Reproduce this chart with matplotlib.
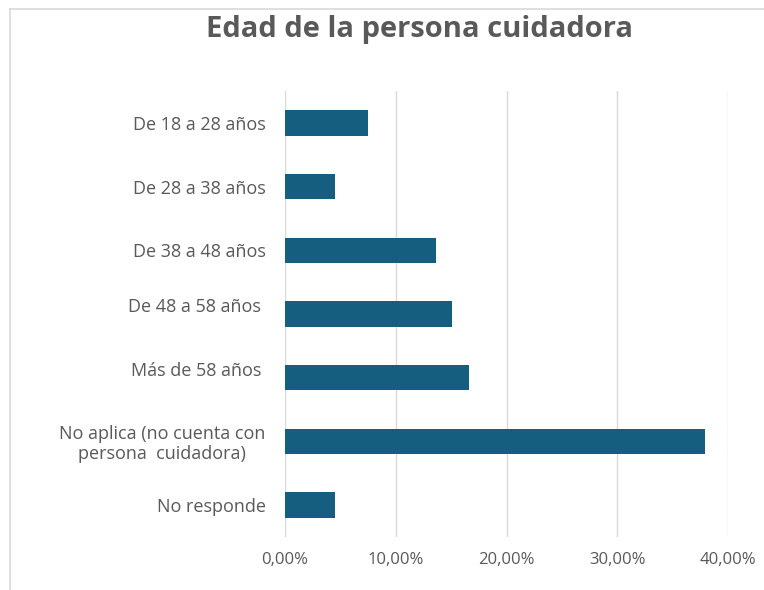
import matplotlib
matplotlib.use("Agg")
import matplotlib.pyplot as plt
from matplotlib.lines import Line2D
from matplotlib.ticker import FuncFormatter

# datos (porcentaje de personas)
categorias = [
    "De 18 a 28 años",
    "De 28 a 38 años",
    "De 38 a 48 años",
    "De 48 a 58 años \n",
    "Más de 58 años \n",
    "No aplica (no cuenta con\npersona  cuidadora)",
    "No responde",
]
valores = [0.075, 0.045, 0.136, 0.151, 0.166, 0.379, 0.045]
ticks_x = [0.0, 0.1, 0.2, 0.3, 0.4]

COLOR_BARRA = "#165E80"
GRIS_TEXTO = "#595959"
GRIS_GRID = "#D9D9D9"

plt.rcParams['font.family'] = ['Open Sans', 'DejaVu Sans']

fig = plt.figure(figsize=(7.64, 5.90), dpi=100)
ax = fig.add_axes([285/764, 1 - 537/590, (728 - 285)/764, (537 - 91)/590])

pos = list(range(len(categorias)))
ax.barh(pos, valores, height=0.4, color=COLOR_BARRA, zorder=3)
ax.set_ylim(len(categorias) - 0.5, -0.5)
ax.set_yticks(pos)
ax.set_yticklabels(categorias, multialignment='center', fontsize=13, linespacing=1.1)

ax.set_xlim(0, 0.4)
ax.set_xticks(ticks_x)
ax.xaxis.set_major_formatter(FuncFormatter(lambda v, p: f"{v*100:.2f}%".replace(".", ",")))
ax.grid(axis='x', color=GRIS_GRID, linewidth=1, zorder=0)
ax.tick_params(axis='both', length=0, colors=GRIS_TEXTO)
ax.tick_params(axis='y', pad=14)
ax.tick_params(axis='x', pad=11, labelsize=12)
for s in ax.spines.values():
    s.set_visible(False)

fig.text(419/764, 1 - 29/590, "Edad de la persona cuidadora", ha='center', va='center',
         fontsize=21, fontweight='bold', color=GRIS_TEXTO)

# marco del grafico (solo se ve arriba y a la izquierda)
fig.add_artist(Line2D([10/764, 10/764], [0, 1 - 9/590], color=GRIS_GRID, linewidth=1.2))
fig.add_artist(Line2D([10/764, 1], [1 - 9/590, 1 - 9/590], color=GRIS_GRID, linewidth=1.2))

fig.savefig("out.png", dpi=100)
